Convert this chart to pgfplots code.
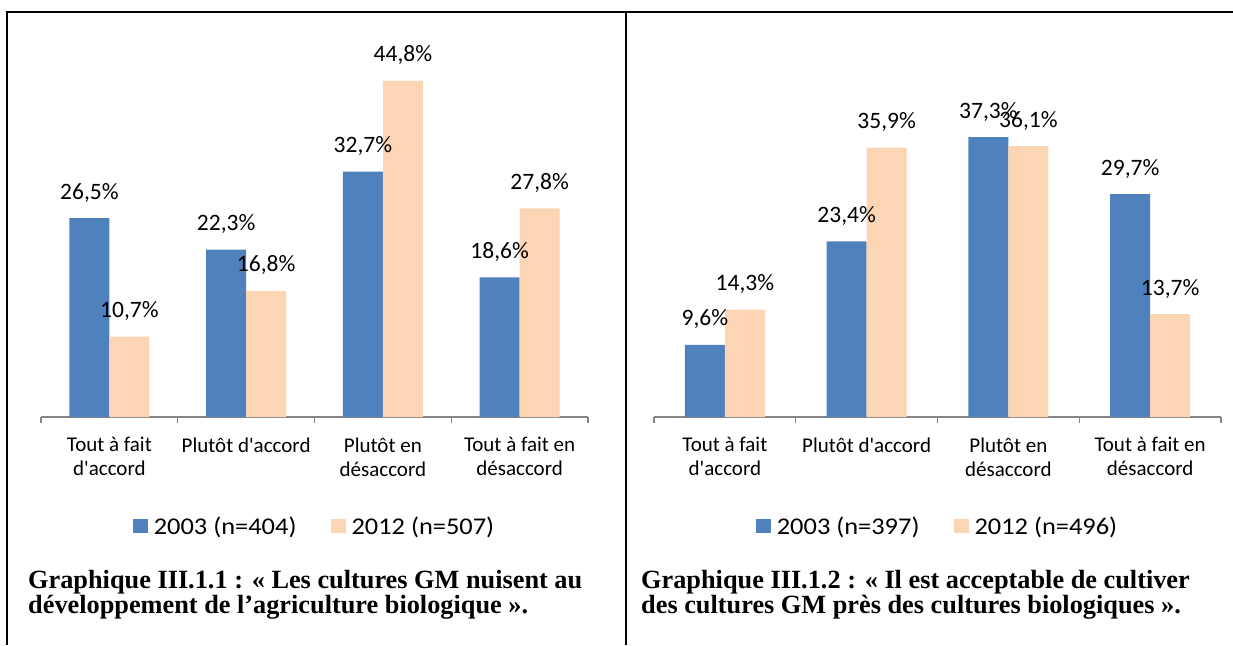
\documentclass[border=0pt]{standalone}
\usepackage{fontspec}
\setmainfont{Carlito}
\newfontfamily\legfont[FakeStretch=1.1]{Carlito}
\newfontfamily\capfont{Liberation Serif}
\usepackage{pgfplots}
\pgfplotsset{compat=1.18}

\definecolor{bleu}{RGB}{79,129,189}
\definecolor{peche}{RGB}{252,213,181}
\definecolor{axe}{RGB}{134,134,134}

\newcommand{\q}{\textquotesingle}

\pgfplotsset{
  gmbars/.style={
    scale only axis, height=375pt,
    ymin=0, ymax=50, xmin=-0.5, xmax=3.5, clip=false,
    axis x line*=bottom, axis y line=none,
    x axis line style={draw=axe, line width=1.2pt, -},
    ybar=0pt, bar width=40pt,
    xtick={0,1,2,3}, major tick length=0pt,
    xticklabels={{Tout à fait\\d\q accord},{Plutôt d\q accord},{Plutôt en\\désaccord},{Tout à fait en\\désaccord}},
    xticklabel style={align=center, font=\fontsize{21}{24}\selectfont, yshift=-17pt},
    extra x ticks={-0.5,0.5,1.5,2.5,3.5}, extra x tick labels={},
    extra x tick style={major tick length=6pt, tick align=outside,
      major tick style={draw=axe, line width=1.2pt}},
    nodes near coords={\pgfmathprintnumber[fixed,fixed zerofill,precision=1,use comma,assume math mode=true]{\pgfplotspointmeta}\%},
    every node near coord/.append style={font=\fontsize{23.5}{26}\selectfont, anchor=base, yshift=19pt, inner sep=0pt, text=black},
    legend columns=2,
    legend style={draw=none, fill=none, at={(0.5,0)}, anchor=center, yshift=-109pt,
      font=\legfont\fontsize{24}{28}\selectfont,
      /tikz/every odd column/.append style={column sep=4pt},
      /tikz/every even column/.append style={column sep=32pt}},
    legend image code/.code={\fill[#1] (0pt,-7pt) rectangle (15pt,7pt);},
  }
}

\begin{document}
\begin{tikzpicture}
\path[use as bounding box] (0pt,0pt) rectangle (1233pt,645pt);
% bordures du tableau
\draw[line width=1.5pt] (6pt,633pt) -- (1233pt,633pt);
\draw[line width=1.5pt] (7pt,633pt) -- (7pt,0pt);
\draw[line width=1.5pt] (626pt,633pt) -- (626pt,0pt);

% Graphique III.1.1
\begin{axis}[gmbars, at={(41pt,228pt)}, anchor=south west, width=547pt]
\addplot[fill=bleu, draw=none] coordinates {(0,26.5) (1,22.3) (2,32.7) (3,18.6)};
\addlegendentry{2003 (n=404)}
\addplot[fill=peche, draw=none] coordinates {(0,10.7) (1,16.8) (2,44.8) (3,27.8)};
\addlegendentry{2012 (n=507)}
\end{axis}

% Graphique III.1.2
\begin{axis}[gmbars, at={(654pt,228pt)}, anchor=south west, width=567pt]
\addplot[fill=bleu, draw=none] coordinates {(0,9.6) (1,23.4) (2,37.3) (3,29.7)};
\addlegendentry{2003 (n=397)}
\addplot[fill=peche, draw=none] coordinates {(0,14.3) (1,35.9) (2,36.1) (3,13.7)};
\addlegendentry{2012 (n=496)}
\end{axis}

\begin{scope}[every node/.style={anchor=base west, inner sep=0pt, font=\capfont\bfseries\fontsize{26.3}{28}\selectfont}]
\node at (28pt,57pt) {Graphique III.1.1 : « Les cultures GM nuisent au};
\node at (28pt,32pt) {développement de l’agriculture biologique ».};
\node at (641pt,57pt) {Graphique III.1.2 : « Il est acceptable de cultiver};
\node at (641pt,32pt) {des cultures GM près des cultures biologiques ».};
\end{scope}
\end{tikzpicture}
\end{document}
